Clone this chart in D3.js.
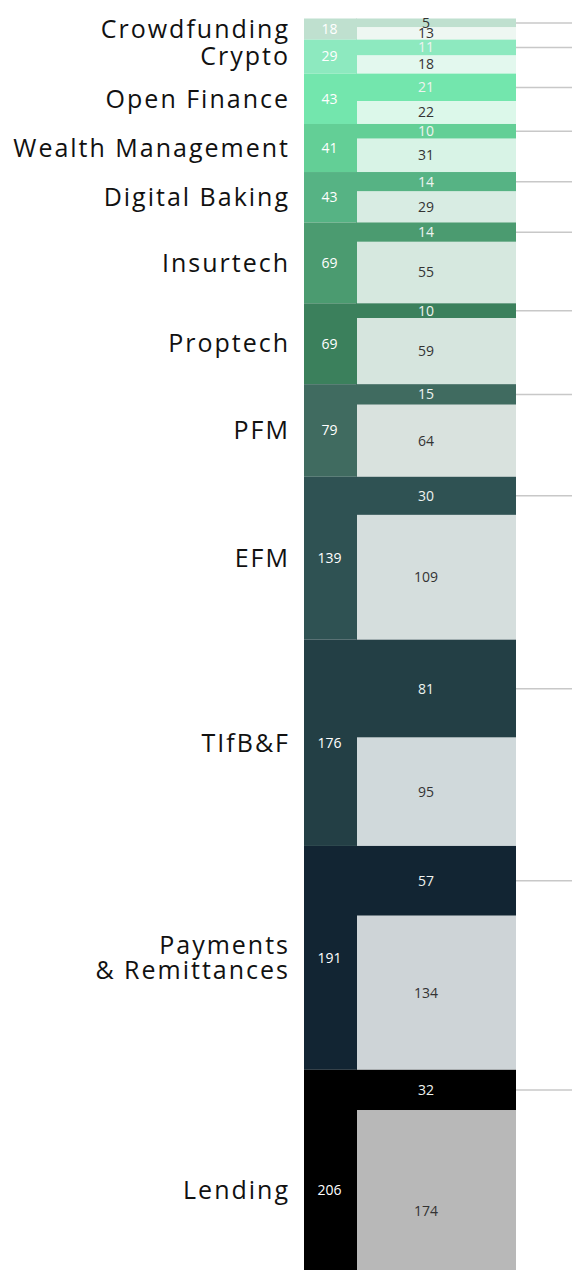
<!DOCTYPE html>
<html>
<head>
<meta charset="utf-8">
<script src="https://cdn.jsdelivr.net/npm/d3@7"></script>
<style>
  html, body { margin: 0; padding: 0; background: #fff; }
  svg { display: block; }
</style>
</head>
<body>
<script>
const categories = ["Crowdfunding", "Crypto", "Open Finance", "Wealth Management", "Digital Baking", "Insurtech", "Proptech", "PFM", "EFM", "TIfB&F", "Payments\n& Remittances", "Lending"];
const totals = [18, 29, 43, 41, 43, 69, 69, 79, 139, 176, 191, 206];
const topValues = [5, 11, 21, 10, 14, 14, 10, 15, 30, 81, 57, 32];
const bottomValues = [13, 18, 22, 31, 29, 55, 59, 64, 109, 95, 134, 174];
const mainColors = ["#bfe0cf", "#8de9bf", "#73e6ad", "#63cf96", "#56b384", "#4b9b70", "#3b805c", "#406b60", "#2f5253", "#233f45", "#122533", "#000000"];
const lightColors = ["#eef7f2", "#e3f8ee", "#dcf8ea", "#d8f3e6", "#d8ece3", "#d6e8df", "#d6e5de", "#d9e2de", "#d5dedd", "#d0d9db", "#ced4d7", "#b8b8b8"];

const W = 572, H = 1270;
const svg = d3.select("body").append("svg").attr("width", W).attr("height", H);

const total = d3.sum(totals);
const y = d3.scaleLinear().domain([0, total]).range([18.5, 18.5 + total * 1.172]);
const xLeft = 304, xMid = 357, xRight = 516, xNum = 426;
const topPad = 3; // visual padding added to the top band
const font = "'Open Sans', sans-serif";

const starts = d3.cumsum([0, ...totals]);
const data = categories.map((c, i) => ({
  name: c, total: totals[i], top: topValues[i], bottom: bottomValues[i],
  s: starts[i], main: mainColors[i], light: lightColors[i], i
}));
const y0 = d => y(d.s);
const ySplit = d => y(d.s + d.top) + topPad;
const y1 = d => y(d.s + d.total);

const g = svg.selectAll("g.cat").data(data).join("g").attr("class", "cat");

// left column (total)
g.append("rect")
  .attr("x", xLeft).attr("width", xMid - xLeft)
  .attr("y", y0).attr("height", d => y1(d) - y0(d))
  .attr("fill", d => d.main);

// top band (right)
g.append("rect")
  .attr("x", xMid - 1).attr("width", xRight - xMid + 1)
  .attr("y", y0).attr("height", d => ySplit(d) - y0(d))
  .attr("fill", d => d.main);

// bottom band (right)
g.append("rect")
  .attr("x", xMid).attr("width", xRight - xMid)
  .attr("y", ySplit).attr("height", d => y1(d) - ySplit(d))
  .attr("fill", d => d.light);

// connector lines
g.append("line")
  .attr("x1", xRight).attr("x2", W)
  .attr("y1", d => (y0(d) + ySplit(d)) / 2)
  .attr("y2", d => (y0(d) + ySplit(d)) / 2)
  .attr("stroke", "#c8c8c8").attr("stroke-width", 1.5);

// total labels
g.append("text")
  .attr("x", (xLeft + xMid) / 2 - 1)
  .attr("y", d => (y0(d) + y1(d)) / 2)
  .attr("dy", "0.35em").attr("text-anchor", "middle")
  .attr("font-family", font).attr("font-size", 14)
  .attr("fill", "#ffffff")
  .text(d => d.total);

// top value labels
g.append("text")
  .attr("x", xNum)
  .attr("y", d => (y0(d) + ySplit(d)) / 2)
  .attr("dy", "0.35em").attr("text-anchor", "middle")
  .attr("font-family", font).attr("font-size", 14)
  .attr("fill", d => d.i === 0 ? "#333333" : "#eef3f0")
  .text(d => d.top);

// bottom value labels
g.append("text")
  .attr("x", xNum)
  .attr("y", d => (ySplit(d) + y1(d)) / 2)
  .attr("dy", "0.35em").attr("text-anchor", "middle")
  .attr("font-family", font).attr("font-size", 14)
  .attr("fill", "#333333")
  .text(d => d.bottom);

// category labels
const lab = g.append("text")
  .attr("x", 290)
  .attr("y", d => (y0(d) + y1(d)) / 2)
  .attr("text-anchor", "end")
  .attr("font-family", font).attr("font-size", 25)
  .attr("letter-spacing", 2)
  .attr("fill", "#111111");
lab.each(function(d) {
  const lines = d.name.split("\n");
  const t = d3.select(this);
  lines.forEach((ln, k) => {
    t.append("tspan")
      .attr("x", 290)
      .attr("dy", k === 0 ? `${0.35 - (lines.length - 1) * 0.5}em` : "1em")
      .text(ln);
  });
});
</script>
</body>
</html>
